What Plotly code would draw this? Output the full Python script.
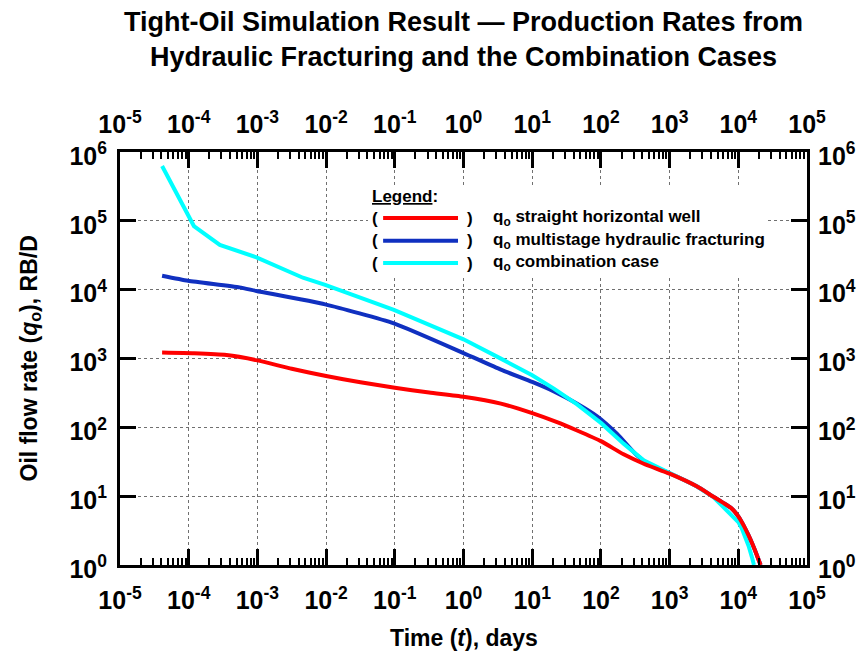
import plotly.graph_objects as go

# Oil production rate (RB/D) versus time (days) for the three cases
t_straight = [4.1e-5, 1.2e-4, 3.55e-4, 1.0e-3, 3.16e-3, 1.0e-2, 3.16e-2, 0.1, 0.316, 1.0,
              3.5, 10, 23, 45, 100, 214, 420, 1000, 2480, 4340, 6050, 7940,
              10000, 12000, 14000, 16000, 18000, 21100]
q_straight = [1220, 1190, 1122, 938, 708, 556, 452, 376, 320, 278,
              221, 161, 119, 90, 63, 40.5, 29.6, 21.2, 13.9, 9.8, 8.0, 6.7,
              5.1, 3.73, 2.73, 2.03, 1.52, 1.0]

t_multistage = [4.1e-5, 9.8e-5, 5.5e-4, 9.7e-4, 9.7e-3, 0.097, 1.0, 3.5, 10, 20.7,
                45, 88, 171, 334, 522, 1000, 2480, 4340, 6050, 7940, 10000,
                12000, 14000, 16000, 18000, 21100]
q_multistage = [15960, 13500, 10800, 9570, 6120, 3240, 1200, 689, 456, 333,
                221, 145, 81, 39.2, 28.1, 21.5, 13.9, 9.8, 8.0, 6.7, 5.1,
                3.73, 2.73, 2.03, 1.52, 1.0]

t_combination = [4.1e-5, 1.19e-4, 2.84e-4, 9.7e-4, 4.6e-3, 9.7e-3, 0.097, 0.65, 1.0,
                 3.5, 10, 20.7, 45, 100, 214, 419, 1000, 2480, 4340, 7570,
                 8700, 10000, 11220, 12590, 14130, 15850, 16900]
q_combination = [627000, 84000, 44600, 29500, 14900, 11700, 5070, 2340, 1900,
                 995, 569, 365, 216, 116, 58, 33.2, 21.5, 13.9, 9.7, 5.6,
                 4.9, 4.2, 3.42, 2.62, 1.89, 1.28, 1.0]

series_names = ["q<sub>o</sub> straight horizontal well",
                "q<sub>o</sub> multistage hydraulic fracturing",
                "q<sub>o</sub> combination case"]
series_colors = ["#ff0000", "#1030c0", "#00ffff"]

# Decade tick positions and labels
x_tick_vals = [1e-5, 1e-4, 1e-3, 1e-2, 1e-1, 1e0, 1e1, 1e2, 1e3, 1e4, 1e5]
x_tick_text = ["10<sup>-5</sup>", "10<sup>-4</sup>", "10<sup>-3</sup>", "10<sup>-2</sup>",
               "10<sup>-1</sup>", "10<sup>0</sup>", "10<sup>1</sup>", "10<sup>2</sup>",
               "10<sup>3</sup>", "10<sup>4</sup>", "10<sup>5</sup>"]
y_tick_vals = [1e0, 1e1, 1e2, 1e3, 1e4, 1e5, 1e6]
y_tick_text = ["10<sup>0</sup>", "10<sup>1</sup>", "10<sup>2</sup>", "10<sup>3</sup>",
               "10<sup>4</sup>", "10<sup>5</sup>", "10<sup>6</sup>"]

# Minor ticks at 2..9 within every decade of the time axis
x_minor_vals = [k * 10.0 ** p for p in range(-5, 5) for k in range(2, 10)]

FONT = "Liberation Sans, Arial, sans-serif"

fig = go.Figure()

# Drawing order: multistage, combination, straight well on top
order = [(t_multistage, q_multistage, 1), (t_combination, q_combination, 2),
         (t_straight, q_straight, 0)]
for tx, qy, i in order:
    fig.add_trace(go.Scatter(
        x=tx, y=qy, mode="lines", name=series_names[i],
        line=dict(color=series_colors[i], width=4,
                  shape="linear" if i == 2 else "spline", smoothing=0.5),
        showlegend=False,
    ))

# Invisible trace so the mirrored top/right axes get drawn with labels
fig.add_trace(go.Scatter(
    x=t_straight, y=q_straight, xaxis="x2", yaxis="y2", mode="lines",
    line=dict(width=0), opacity=0, hoverinfo="skip", showlegend=False,
))

tick_font = dict(family=FONT, size=25, color="black", weight="bold")

x_common = dict(
    type="log", range=[-5, 5], tickmode="array",
    tickvals=x_tick_vals, ticktext=x_tick_text,
    ticks="inside", ticklen=16, tickwidth=3, tickcolor="black",
    minor=dict(tickmode="array", tickvals=x_minor_vals, ticks="inside",
               ticklen=7, tickwidth=2, tickcolor="black", showgrid=False),
    showline=True, linewidth=3, linecolor="black",
    tickfont=tick_font, zeroline=False,
)
y_common = dict(
    type="log", range=[0, 6], tickmode="array",
    tickvals=y_tick_vals, ticktext=y_tick_text,
    ticks="inside", ticklen=16, tickwidth=3, tickcolor="black",
    showline=True, linewidth=3, linecolor="black",
    tickfont=tick_font, zeroline=False, ticklabelshift=4,
)

fig.update_layout(
    width=857, height=660,
    margin=dict(l=120, r=50, t=152, b=95, autoexpand=False),
    paper_bgcolor="white", plot_bgcolor="white",
    font=dict(family=FONT, color="black"),
    title=dict(
        text="<b>Tight-Oil Simulation Result \u2014 Production Rates from<br>"
             "Hydraulic Fracturing and the Combination Cases</b>",
        x=0.5, xref="paper", xanchor="center",
        y=0.953, yref="container", yanchor="middle",
        font=dict(family=FONT, size=27, color="black"),
    ),
    xaxis=dict(**x_common, showgrid=True, gridcolor="#707070", gridwidth=1,
               griddash="dot", mirror=True, side="bottom",
               ticklabelstandoff=11),
    xaxis2=dict(**x_common, showgrid=False, overlaying="x", side="top",
                anchor="y", ticklabelstandoff=6),
    yaxis=dict(**y_common, showgrid=True, gridcolor="#707070", gridwidth=1,
               griddash="dot", mirror=True, side="left",
               ticklabelstandoff=5),
    yaxis2=dict(**y_common, showgrid=False, overlaying="y", side="right",
                anchor="x", ticklabelstandoff=3),
    showlegend=False,
)

# Axis titles
fig.add_annotation(
    text="<b>Oil flow rate (<i>q</i><sub>o</sub>), RB/D</b>",
    xref="paper", yref="paper", x=0, y=0.5, xshift=-90, textangle=-90,
    xanchor="center", yanchor="middle", showarrow=False,
    font=dict(family=FONT, size=23, color="black"),
)
fig.add_annotation(
    text="<b>Time (<i>t</i>), days</b>",
    xref="paper", yref="paper", x=0.5, y=0, yshift=-73,
    xanchor="center", yanchor="middle", showarrow=False,
    font=dict(family=FONT, size=23, color="black"),
)

# Legend box with bracketed line samples
fig.add_shape(type="rect", xref="paper", yref="paper",
              x0=0.361, x1=0.942, y0=0.700, y1=0.920,
              fillcolor="white", line=dict(width=0), layer="above")
fig.add_annotation(
    text="<b><span style='text-decoration:underline'>Legend</span>:</b>",
    xref="paper", yref="paper", x=0.364, y=0.893, xanchor="left",
    yanchor="middle", showarrow=False,
    font=dict(family=FONT, size=17, color="black"),
)
row_y = [0.840, 0.785, 0.731]
for i in range(3):
    fig.add_shape(type="line", xref="paper", yref="paper",
                  x0=0.383, x1=0.492, y0=row_y[i], y1=row_y[i],
                  line=dict(color=series_colors[i], width=4), layer="above")
    fig.add_annotation(text="<b>(</b>", xref="paper", yref="paper",
                       x=0.364, y=row_y[i], xanchor="left", yanchor="middle",
                       showarrow=False, font=dict(family=FONT, size=17))
    fig.add_annotation(text="<b>)</b>", xref="paper", yref="paper",
                       x=0.502, y=row_y[i], xanchor="left", yanchor="middle",
                       showarrow=False, font=dict(family=FONT, size=17))
    fig.add_annotation(text="<b>" + series_names[i] + "</b>", xref="paper",
                       yref="paper", x=0.540, y=row_y[i], xanchor="left",
                       yanchor="middle", showarrow=False,
                       font=dict(family=FONT, size=17))

fig.write_html("out.html")
